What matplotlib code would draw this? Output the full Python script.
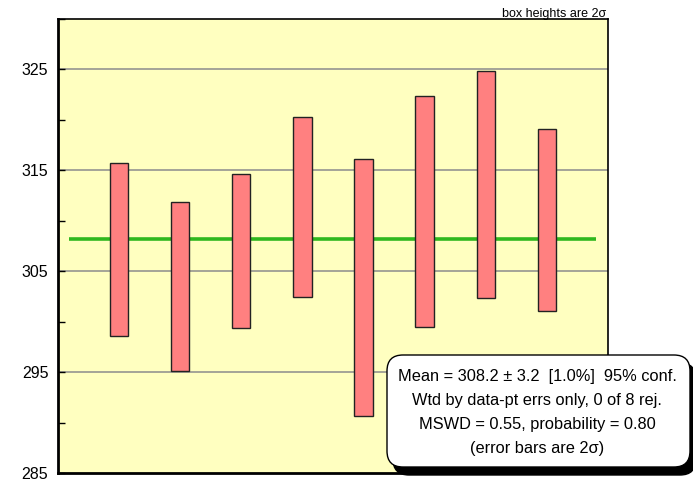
import matplotlib
matplotlib.use("Agg")
import matplotlib.pyplot as plt
from matplotlib.patches import FancyBboxPatch
from matplotlib.transforms import IdentityTransform
from matplotlib.ticker import MultipleLocator

plt.rcParams['font.family'] = ['Liberation Sans', 'DejaVu Sans']

# Ages and 2-sigma uncertainties of the analysed points
ages = [307.15, 303.45, 307.0, 311.35, 303.35, 310.9, 313.55, 310.05]
err2s = [8.55, 8.35, 7.6, 8.95, 12.75, 11.4, 11.25, 9.05]
weighted_mean = 308.2

yticks = [285, 295, 305, 315, 325]
stats_lines = [
    "Mean = 308.2 \u00b1 3.2  [1.0%]  95% conf.",
    "Wtd by data-pt errs only, 0 of 8 rej.",
    "MSWD = 0.55, probability = 0.80",
    "(error bars are 2\u03c3)",
]

W, H = 693, 483
fig = plt.figure(figsize=(W / 100, H / 100), dpi=100)
ax = fig.add_axes([58 / W, 10 / H, 550 / W, 454.3 / H])
ax.set_facecolor('#FFFFC0')

ax.set_xlim(0, 9)
ax.set_ylim(285, 330)

for y in yticks[1:]:
    ax.axhline(y, color='#8c8c8c', lw=1.1, zorder=1)

ax.plot([0.18, 8.8], [weighted_mean, weighted_mean], color='#2fb81f', lw=2.6,
        zorder=2, solid_capstyle='butt')

xs = range(1, len(ages) + 1)
for x, a, e in zip(xs, ages, err2s):
    ax.bar(x, 2 * e, bottom=a - e, width=0.3, color='#FF8080',
           edgecolor='#222222', linewidth=1.0, zorder=3)

ax.set_yticks(yticks)
ax.yaxis.set_minor_locator(MultipleLocator(5))
ax.tick_params(axis='y', which='major', direction='in', length=5, width=1,
               labelsize=11.5, pad=7)
ax.tick_params(axis='y', which='minor', direction='in', length=5, width=1)
ax.set_xticks([])
for side in ['left', 'bottom']:
    ax.spines[side].set_linewidth(2)
for side in ['top', 'right']:
    ax.spines[side].set_linewidth(1.2)

fig.text(606 / W, 1 - 17.5 / H, "box heights are 2\u03c3", ha='right', va='baseline',
         fontsize=9)

# Statistics box with a drop shadow, placed in pixel coordinates
bx0, bx1 = 387, 690
by0, by1 = H - 467, H - 355
shadow = FancyBboxPatch((bx0 + 6, by0 - 8), bx1 - bx0, by1 - by0,
                        boxstyle="round,pad=0,rounding_size=16",
                        transform=IdentityTransform(), facecolor='black',
                        edgecolor='black', zorder=10)
box = FancyBboxPatch((bx0, by0), bx1 - bx0, by1 - by0,
                     boxstyle="round,pad=0,rounding_size=16",
                     transform=IdentityTransform(), facecolor='white',
                     edgecolor='black', linewidth=1.0, zorder=11)
fig.patches.extend([shadow, box])

line_y = [377, 401, 425, 448.5]
for txt, yy in zip(stats_lines, line_y):
    fig.text(537 / W, 1 - yy / H, txt, ha='center', va='center', fontsize=11.8,
             zorder=12)

fig.savefig("out.png", dpi=100)
